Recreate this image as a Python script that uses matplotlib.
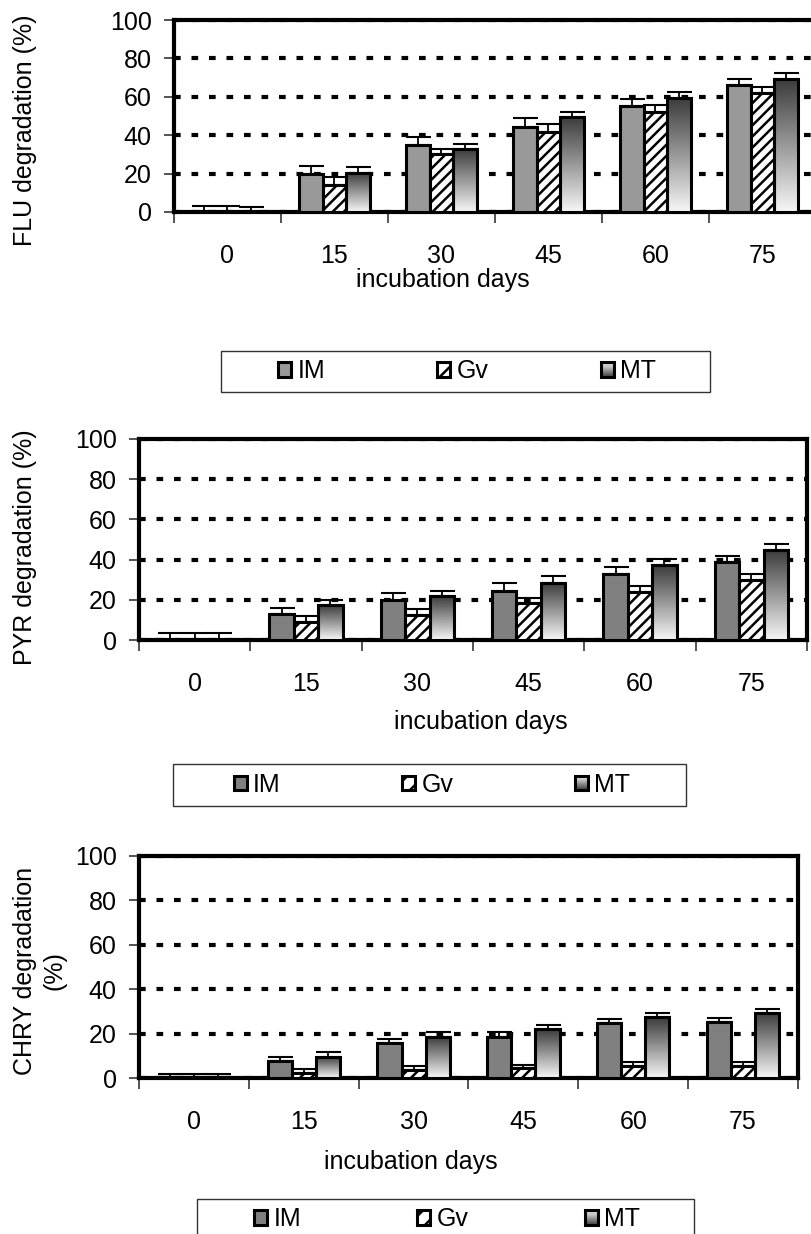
import numpy as np
import matplotlib
matplotlib.use("Agg")
import matplotlib.pyplot as plt
from matplotlib.patches import Rectangle, Patch
from matplotlib.legend_handler import HandlerBase
from matplotlib.colors import LinearSegmentedColormap

W, H = 812, 1234
plt.rcParams['font.family'] = ['Liberation Sans', 'DejaVu Sans']
plt.rcParams['hatch.linewidth'] = 1.8
FS = 18

days = ["0", "15", "30", "45", "60", "75"]
series = ["IM", "Gv", "MT"]

# FLU
flu_im = [0, 20, 35, 44.5, 55, 66]
flu_gv = [0, 14, 30, 41.5, 52, 62]
flu_mt = [0, 20.5, 33, 49.5, 59.5, 69.5]
flu_im_err = [3.3, 3.8, 4, 4.2, 4, 3.5]
flu_gv_err = [3.3, 4, 3, 4.2, 3.5, 3]
flu_mt_err = [2.6, 3, 2.3, 2.8, 3, 3]

# PYR
pyr_im = [0, 13, 20, 24.5, 33, 39]
pyr_gv = [0, 9, 12.5, 18.5, 24, 30]
pyr_mt = [0, 17.3, 21.8, 28.5, 37.3, 45]
pyr_im_err = [3.3, 2.7, 3.2, 3.8, 3.1, 2.8]
pyr_gv_err = [3.3, 3, 3.1, 2.3, 3, 2.7]
pyr_mt_err = [3.3, 2.8, 2.8, 3.1, 3.1, 2.8]

# CHRY
chry_im = [0.5, 7.5, 15.7, 18.5, 24.7, 25.3]
chry_gv = [0.5, 2.1, 3.5, 4.5, 5.6, 5.6]
chry_mt = [0.5, 9.6, 18.5, 21.9, 27.3, 29.4]
chry_im_err = [1.3, 2, 2, 2, 1.8, 1.8]
chry_gv_err = [1.3, 2, 1.8, 1.4, 1.8, 1.8]
chry_mt_err = [1.3, 2, 2, 1.8, 1.9, 1.8]

mt_cmap = LinearSegmentedColormap.from_list("mt", ["#f7f7f7", "#3a3a3a"])


def px_rect(l, t, r, b):
    return [l / W, 1 - b / H, (r - l) / W, (b - t) / H]


class GradHandler(HandlerBase):
    def create_artists(self, legend, orig_handle, xdescent, ydescent, width, height, fontsize, trans):
        arts = []
        n = 14
        for i in range(n):
            arts.append(Rectangle((-xdescent, -ydescent + height * i / n), width, height / n,
                                  facecolor=mt_cmap(1 - (i + 0.5) / n), edgecolor='none', transform=trans))
        arts.append(Rectangle((-xdescent, -ydescent), width, height, facecolor='none',
                              edgecolor='black', lw=2.2, transform=trans))
        return arts


panels = [
    dict(vals=(flu_im, flu_gv, flu_mt), errs=(flu_im_err, flu_gv_err, flu_mt_err), im_color="#999999",
         ax=(174, 20, 816, 212), ylab="FLU degradation (%)", ylab_xy=(25, 130),
         xlab_xy=(443, 280), leg_box=(221, 351, 710, 392), leg_x=278, colsp=4.5),
    dict(vals=(pyr_im, pyr_gv, pyr_mt), errs=(pyr_im_err, pyr_gv_err, pyr_mt_err), im_color="#808080",
         ax=(139, 439, 807, 640), ylab="PYR degradation (%)", ylab_xy=(25, 547),
         xlab_xy=(481, 722), leg_box=(173, 764, 686, 806), leg_x=234, colsp=4.85),
    dict(vals=(chry_im, chry_gv, chry_mt), errs=(chry_im_err, chry_gv_err, chry_mt_err), im_color="#808080",
         ax=(139, 856, 798, 1078), ylab="CHRY degradation\n(%)", ylab_xy=(40, 971),
         xlab_xy=(411, 1162), leg_box=(197, 1199, 694, 1240), leg_x=254, colsp=4.65),
]

fig = plt.figure(figsize=(W / 100, H / 100), dpi=100)
x = np.arange(len(days))
bw = 0.22

for p in panels:
    ax = fig.add_axes(px_rect(*p["ax"]))
    ax.set_axisbelow(True)
    ax.yaxis.grid(True, color='black', linewidth=3.0, dashes=(1.6, 2.6))
    styles = [dict(color=p["im_color"]), dict(color='white', hatch='///'), dict(color='none')]
    conts = []
    for k, (vals, err, st) in enumerate(zip(p["vals"], p["errs"], styles)):
        xs = x + (k - 1) * bw
        c = ax.bar(xs, vals, bw, edgecolor='black', linewidth=2.2, zorder=3, **st)
        conts.append(c)
        ax.errorbar(xs, vals, yerr=[np.zeros(len(vals)), err], fmt='none', ecolor='black',
                    elinewidth=1.3, capsize=9, capthick=1.5, zorder=4)
    grad = np.linspace(0, 1, 256).reshape(-1, 1)
    for bar in conts[2]:
        x0, h = bar.get_x(), bar.get_height()
        if h <= 0:
            continue
        im = ax.imshow(grad, extent=[x0, x0 + bar.get_width(), 0, h], origin='lower', cmap=mt_cmap,
                       aspect='auto', zorder=2.9, interpolation='bilinear')
        im.set_clip_path(bar)
    ax.set_xlim(-0.5, len(days) - 0.5)
    ax.set_ylim(0, 100)
    ax.set_yticks([0, 20, 40, 60, 80, 100])
    ax.tick_params(axis='y', labelsize=FS, length=7, width=1.3, color='#444444', pad=9)
    ax.set_xticks(x)
    ax.set_xticklabels(days)
    ax.set_xticks(np.arange(-0.5, len(days)), minor=True)
    ax.tick_params(axis='x', which='major', length=0, labelsize=FS, pad=23)
    ax.tick_params(axis='x', which='minor', length=8, width=1.3, color='#444444')
    for s in ax.spines.values():
        s.set_linewidth(3.0)
        s.set_color('black')
    fig.text(p["ylab_xy"][0] / W, 1 - p["ylab_xy"][1] / H, p["ylab"], rotation=90, ha='center',
             va='center', fontsize=FS, multialignment='center', linespacing=1.3)
    fig.text(p["xlab_xy"][0] / W, 1 - p["xlab_xy"][1] / H, "incubation days", ha='center',
             va='center', fontsize=FS)
    l, t, r, b = p["leg_box"]
    fig.patches.append(Rectangle((l / W, 1 - b / H), (r - l) / W, (b - t) / H, transform=fig.transFigure,
                                 facecolor='none', edgecolor='#333333', linewidth=1.0))
    handles = [Patch(facecolor=p["im_color"], edgecolor='black', linewidth=2.2),
               Patch(facecolor='white', edgecolor='black', hatch='//', linewidth=2.2),
               Patch(facecolor='#aaaaaa', edgecolor='black')]
    fig.legend(handles, series, loc='center left', ncol=3, frameon=False,
               bbox_to_anchor=(p["leg_x"] / W, 1 - ((t + b) / 2) / H),
               fontsize=FS, handlelength=0.52, handleheight=0.52, handletextpad=0.25,
               columnspacing=p["colsp"], borderpad=0, borderaxespad=0,
               handler_map={handles[2]: GradHandler()})

fig.savefig("out.png", dpi=100)
